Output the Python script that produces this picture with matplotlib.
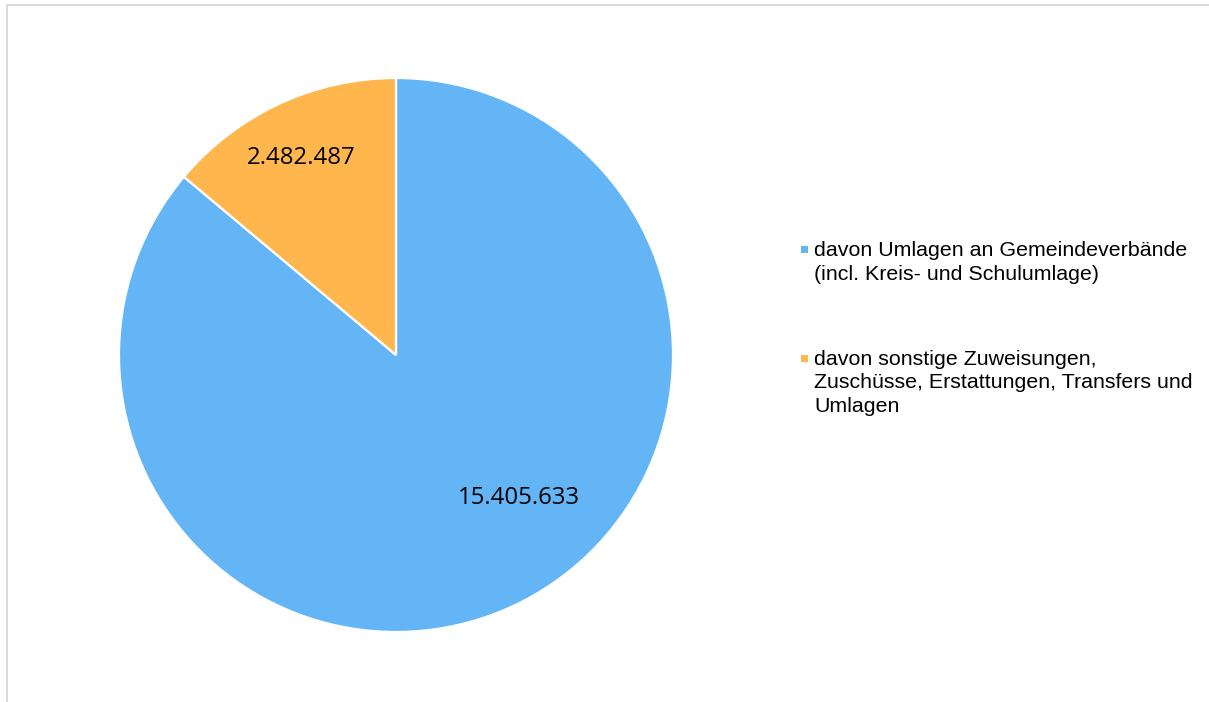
import matplotlib
matplotlib.use("Agg")
import matplotlib.pyplot as plt
from matplotlib.patches import Rectangle

# Data
categories = [
    "davon Umlagen an Gemeindeverbände\n(incl. Kreis- und Schulumlage)",
    "davon sonstige Zuweisungen,\nZuschüsse, Erstattungen, Transfers und\nUmlagen",
]
values = [15405633, 2482487]
value_labels = ["15.405.633", "2.482.487"]
colors = ["#64B5F6", "#FFB74D"]

W, H = 1209, 702
fig = plt.figure(figsize=(W / 100, H / 100), dpi=100)
fig.patch.set_facecolor("white")

# outer frame (only top/left visible in the reference)
fig.add_artist(Rectangle((7 / W, -0.05), 1.2, (H - 4.5) / H + 0.05,
                         transform=fig.transFigure, fill=False,
                         edgecolor="#d9d9d9", linewidth=1.3))

cx, cy, r = 396, 355, 277
ax = fig.add_axes([(cx - r) / W, (H - cy - r) / H, 2 * r / W, 2 * r / H])
wedges, _ = ax.pie(values, colors=colors, startangle=90, counterclock=False,
                   radius=1.0,
                   wedgeprops=dict(edgecolor="white", linewidth=1.6))
ax.set_xlim(-1, 1)
ax.set_ylim(-1, 1)
ax.set_aspect("equal")
ax.axis("off")

label_pos = [(0.444, -0.516), (-0.343, 0.711)]
for (x, y), txt in zip(label_pos, value_labels):
    ax.text(x, y, txt, ha="center", va="center", fontsize=17.3,
            family="Open Sans", color="black")

# legend (manual, top-aligned marker)
entry_baselines = [256, 365]
line_step = 23.5
for base, lab, col in zip(entry_baselines, categories, colors):
    fig.add_artist(Rectangle((800.5 / W, (H - base + 3.5) / H), 7 / W, 7 / H,
                             transform=fig.transFigure, facecolor=col,
                             edgecolor="none"))
    for i, line in enumerate(lab.split("\n")):
        fig.text(814 / W, (H - (base + i * line_step)) / H, line,
                 ha="left", va="baseline", fontsize=15.4,
                 family="Liberation Sans", color="black")

fig.savefig("out.png", dpi=100, facecolor="white")
